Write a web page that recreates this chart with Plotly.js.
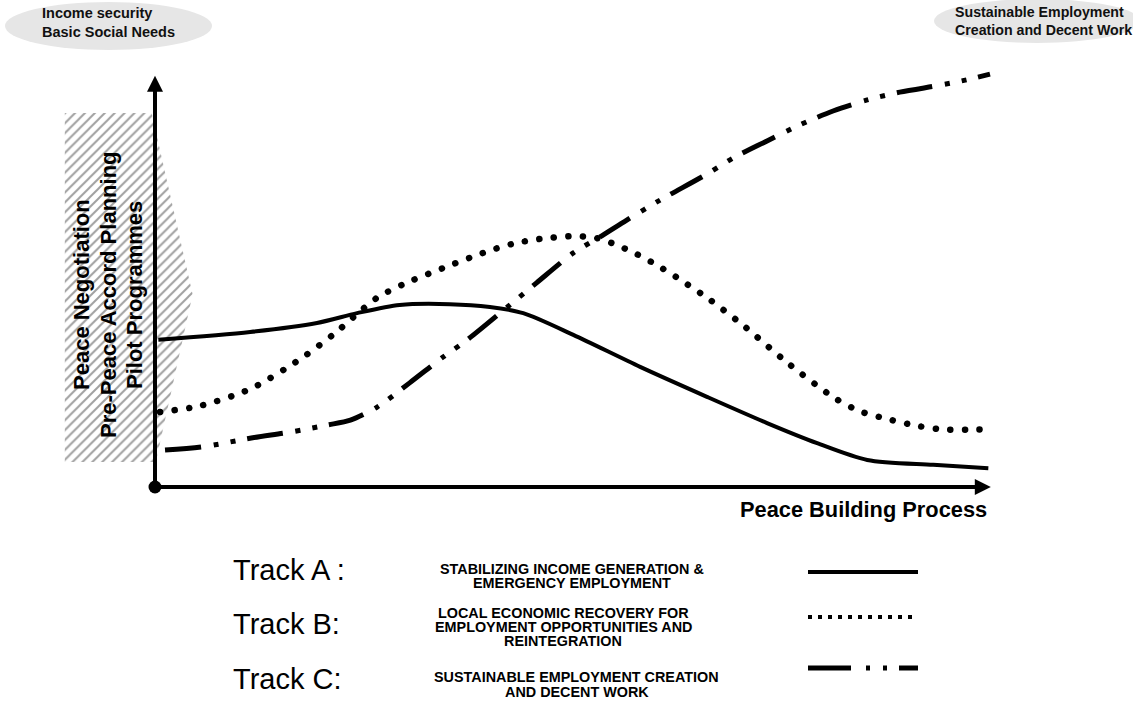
<!DOCTYPE html>
<html><head><meta charset="utf-8">
<script src="https://cdn.plot.ly/plotly-3.0.1.min.js"></script>
<style>
html,body{margin:0;padding:0;background:#fff;}
#chart{width:1133px;height:704px;}
.scatterlayer .trace:nth-child(3) path.js-line{stroke-linecap:round !important;}
</style></head><body><div id="chart"></div>
<script>
// ---- data (x: peace building process 0-100, y: level 0-100) ----
const processA = [0.4, 11.4, 19.4, 24.2, 29.3, 35.3, 40.1, 44.1, 50.1, 58.1, 66.1, 73.3, 79.3, 85.3, 93.2, 99.8];
const levelA   = [35.9, 37.8, 40.0, 42.4, 44.4, 44.6, 43.9, 42.4, 37.1, 29.3, 22.0, 15.6, 10.7, 6.6, 5.4, 4.6];

const processB = [0.6, 5.4, 11.4, 17.4, 21.6, 24.2, 26.7, 29.8, 34.5, 39.3, 42.8, 46.1, 50.3, 52.9, 54.7, 57.7, 60.7, 63.7, 66.5, 70.7, 75.8, 81.4, 84.4, 87.7, 91.3, 94.6, 98.0, 100];
const levelB   = [18.3, 19.8, 23.9, 31.2, 37.6, 42.2, 46.3, 49.5, 53.4, 57.1, 59.3, 60.5, 61.2, 60.7, 59.5, 56.8, 53.4, 49.5, 45.6, 39.0, 30.2, 21.7, 18.5, 16.6, 14.9, 14.0, 14.0, 14.1];

const processC = [1.2, 5.7, 11.7, 16.2, 20.6, 23.4, 26.6, 30.5, 34.5, 37.4, 42.2, 45.7, 50.1, 53.3, 56.5, 60.5, 65.9, 69.2, 73.3, 77.2, 81.2, 85.3, 89.2, 94.0, 97.2, 100];
const levelC   = [9.0, 9.8, 12.0, 13.4, 15.1, 16.3, 19.5, 25.4, 31.7, 35.9, 43.9, 49.8, 57.1, 61.0, 65.1, 70.0, 76.1, 80.2, 84.4, 88.3, 91.7, 94.4, 96.3, 98.0, 99.3, 100.7];

// pre-accord phase region (hatched)
const phaseX = [-10.8, -0.4, 4.5, 0.1, -10.8];
const phaseY = [91.2, 91.2, 47.0, 6.1, 6.1];

const origin = [0];

const phaseLabels = ["Peace Negotiation", "Pre-Peace Accord Planning", "Pilot Programmes"];
const cornerLeft  = ["Income security", "Basic Social Needs"];
const cornerRight = ["Sustainable Employment", "Creation and Decent Work"];
const xAxisLabel  = "Peace Building Process";
const trackNames  = ["Track A :", "Track B:", "Track C:"];
const trackDescA  = ["STABILIZING INCOME GENERATION &", "EMERGENCY EMPLOYMENT"];
const trackDescB  = ["LOCAL ECONOMIC RECOVERY FOR", "EMPLOYMENT OPPORTUNITIES AND", "REINTEGRATION"];
const trackDescC  = ["SUSTAINABLE EMPLOYMENT CREATION", "AND DECENT WORK"];

// ---- layout helpers ----
const W = 1133, H = 704;
const PX = v => v / W, PY = v => 1 - v / H;
const SANS = '"Liberation Sans", Arial, sans-serif';

function fitSize(text, family, target) {
  const c = document.createElement('canvas').getContext('2d');
  c.font = 'bold 100px ' + family;
  return 100 * target / c.measureText(text).width;
}
const descSize = fitSize(trackDescA[0], SANS, 264);

const traces = [
  { x: phaseX, y: phaseY, mode: 'lines', fill: 'toself', fillcolor: '#ffffff',
    fillpattern: { shape: '/', fgcolor: '#a0a0a0', bgcolor: '#ffffff', size: 7, solidity: 0.28 },
    line: { width: 0, color: 'rgba(0,0,0,0)' }, hoverinfo: 'skip' },
  { x: processA, y: levelA, mode: 'lines', line: { shape: 'spline', smoothing: 0.8, color: '#000', width: 4 } },
  { x: processB, y: levelB, mode: 'lines', line: { shape: 'spline', smoothing: 0.8, color: '#000', width: 6.5, dash: '0.1px,14.5px' } },
  { x: processC, y: levelC, mode: 'lines', line: { shape: 'spline', smoothing: 0.8, color: '#000', width: 5, dash: '36px,13px,5px,12px,5px,12px' } },
  { x: origin, y: origin, mode: 'markers', marker: { size: 13, color: '#000' } }
];

const ann = [];
// axes arrows
ann.push({ xref: 'x', yref: 'y', axref: 'x', ayref: 'y', x: 0, y: 100.3, ax: 0, ay: 0, text: '',
  showarrow: true, arrowhead: 2, arrowsize: 0.8, arrowwidth: 4, arrowcolor: '#000', standoff: 0 });
ann.push({ xref: 'x', yref: 'y', axref: 'x', ayref: 'y', x: 100.1, y: 0, ax: 0, ay: 0, text: '',
  showarrow: true, arrowhead: 2, arrowsize: 0.8, arrowwidth: 4, arrowcolor: '#000', standoff: 0 });

// rotated phase labels
const phaseLabelX = [82, 109, 135];
phaseLabels.forEach((t, i) => ann.push({ xref: 'paper', yref: 'paper', x: PX(phaseLabelX[i]), y: PY(295),
  text: '<b>' + t + '</b>', textangle: -90, showarrow: false, xanchor: 'center', yanchor: 'middle',
  font: { family: SANS, size: 22, color: '#000' } }));

// corner notes
ann.push({ xref: 'paper', yref: 'paper', x: PX(40), y: PY(22), xanchor: 'left', yanchor: 'middle', align: 'left',
  text: '<b>' + cornerLeft.join('<br>') + '</b>', showarrow: false, font: { family: SANS, size: 14.5, color: '#111' } });
ann.push({ xref: 'paper', yref: 'paper', x: PX(953), y: PY(21), xanchor: 'left', yanchor: 'middle', align: 'left',
  text: '<b>' + cornerRight.join('<br>') + '</b>', showarrow: false, font: { family: SANS, size: 14.2, color: '#111' } });

// x axis label
ann.push({ xref: 'paper', yref: 'paper', x: PX(989), y: PY(509), xanchor: 'right', yanchor: 'middle',
  text: '<b>' + xAxisLabel + '</b>', showarrow: false, font: { family: SANS, size: 21.8, color: '#000' } });

// track names
const trackY = [570, 624, 679];
trackNames.forEach((t, i) => ann.push({ xref: 'paper', yref: 'paper', x: PX(231), y: PY(trackY[i]),
  xanchor: 'left', yanchor: 'middle', text: t, showarrow: false, font: { family: SANS, size: 29, color: '#000' } }));

// descriptions
function desc(lines, cx, ys) {
  lines.forEach((t, i) => ann.push({ xref: 'paper', yref: 'paper', x: PX(cx), y: PY(ys[i]),
    xanchor: 'center', yanchor: 'middle', text: '<b>' + t + '</b>', showarrow: false,
    font: { family: SANS, size: descSize, color: '#000' } }));
}
desc(trackDescA, 572, [569, 583]);
desc(trackDescB, 563, [613, 627, 641]);
desc(trackDescC, 577, [677, 692]);

const shapes = [
  { type: 'circle', xref: 'paper', yref: 'paper', layer: 'below', x0: PX(5), x1: PX(212), y0: PY(50), y1: PY(2),
    fillcolor: '#e6e6e6', line: { width: 0 } },
  { type: 'circle', xref: 'paper', yref: 'paper', layer: 'below', x0: PX(934), x1: PX(1140), y0: PY(43), y1: PY(-1),
    fillcolor: '#e6e6e6', line: { width: 0 } },
  // legend samples
  { type: 'line', xref: 'paper', yref: 'paper', x0: PX(808), x1: PX(918), y0: PY(572), y1: PY(572),
    line: { color: '#000', width: 4 } },
  { type: 'line', xref: 'paper', yref: 'paper', x0: PX(808), x1: PX(918), y0: PY(617), y1: PY(617),
    line: { color: '#000', width: 4, dash: '4px,6px' } },
  { type: 'line', xref: 'paper', yref: 'paper', x0: PX(808), x1: PX(918), y0: PY(668), y1: PY(668),
    line: { color: '#000', width: 5, dash: '43px,15px,4px,13px,4px,12px,20px' } }
];

const layout = {
  width: W, height: H, margin: { l: 0, r: 0, t: 0, b: 0 },
  paper_bgcolor: '#fff', plot_bgcolor: '#fff', showlegend: false, hovermode: false,
  xaxis: { range: [-18.563, 117.126], visible: false, fixedrange: true },
  yaxis: { range: [-52.927, 118.78], visible: false, fixedrange: true },
  annotations: ann, shapes: shapes
};

Plotly.newPlot('chart', traces, layout, { staticPlot: true, displayModeBar: false });
</script></body></html>
